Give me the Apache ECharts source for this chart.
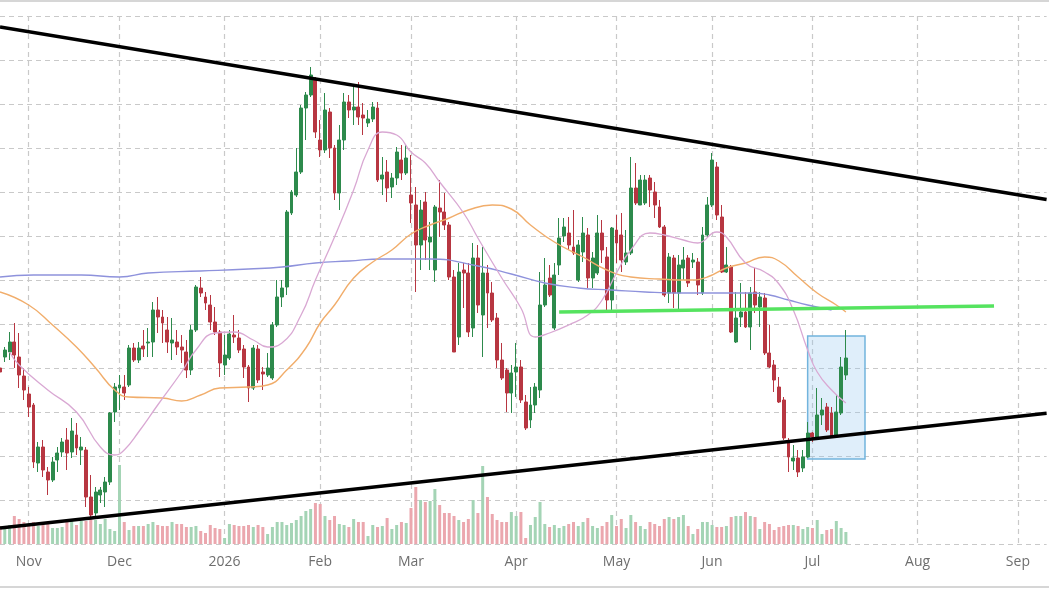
<!DOCTYPE html>
<html>
<head>
<meta charset="utf-8">
<script src="https://cdn.jsdelivr.net/npm/echarts@6/dist/echarts.min.js"></script>
<style>
html, body { margin: 0; padding: 0; background: #fff; }
#chart { width: 1049px; height: 590px; }
</style>
</head>
<body>
<div id="chart"></div>
<script>
var chart = echarts.init(document.getElementById('chart'));

// trading calendar
var firstDay = '2025-10-24';
var dayCount = 220;
var holidays = ['2025-11-27', '2025-12-25', '2026-01-01', '2026-01-19', '2026-02-16',
	'2026-04-03', '2026-05-25', '2026-06-19', '2026-07-03', '2026-09-07'];
var monthNames = ['Jan', 'Feb', 'Mar', 'Apr', 'May', 'Jun', 'Jul', 'Aug', 'Sep', 'Oct', 'Nov', 'Dec'];

// [open, close, low, high]
var ohlc = [
	[220,216,211,241],[231,238,226,241],[236,246,228,256],[246,233,220,265],[231,213,200,255],
	[212,198,188,220],[194,181,171,201],[183,126,120,185],[125,141,116,146],[141,118,111,148],
	[116,108,93,121],[108,126,106,131],[128,135,116,141],[136,146,131,150],[148,135,118,160],
	[136,157,130,170],[153,140,133,165],[138,141,123,151],[138,91,81,141],[91,73,71,113],
	[75,96,71,101],[93,98,85,101],[96,106,81,111],[106,175,103,176],[176,201,166,205],
	[200,203,178,213],[201,195,188,213],[203,240,201,243],[240,228,226,245],[228,240,225,246],
	[242,239,231,258],[245,246,231,260],[246,278,231,286],[278,271,255,291],[271,265,245,278],
	[258,246,235,271],[245,248,228,270],[246,241,233,258],[241,238,225,253],[236,218,210,248],
	[218,258,213,263],[258,301,256,303],[300,295,291,311],[291,285,278,296],[283,266,258,293],
	[266,256,253,281],[256,225,211,258],[223,233,213,253],[230,254,228,258],[253,251,245,273],
	[250,238,235,258],[239,221,210,243],[221,200,186,223],[200,240,198,243],[239,208,205,243],
	[216,214,198,221],[213,220,211,235],[210,263,208,266],[263,291,261,308],[291,300,281,308],
	[301,376,293,378],[375,396,373,398],[393,416,391,440],[416,480,414,483],[480,493,448,496],
	[493,513,491,521],[508,456,450,511],[448,438,431,468],[438,478,435,495],[476,440,430,480],
	[440,395,388,443],[395,448,378,463],[448,486,438,495],[486,478,470,493],[478,481,463,503],
	[481,471,463,506],[473,470,453,485],[465,469,461,478],[469,481,466,486],[480,408,406,486],
	[409,413,393,431],[416,400,386,428],[401,410,390,415],[410,436,403,441],[428,415,408,443],
	[415,430,413,443],[393,385,365,433],[383,343,296,401],[343,378,318,388],[386,348,328,396],
	[346,351,318,366],[318,381,306,383],[380,376,351,408],[376,363,358,395],[363,311,308,366],
	[311,236,236,318],[251,316,243,325],[318,315,280,325],[315,256,251,325],[260,330,251,345],
	[330,283,275,343],[273,315,231,341],[315,295,260,323],[295,268,266,306],[270,228,220,275],
	[228,210,208,245],[218,195,176,220],[195,215,175,223],[216,221,191,245],[221,188,185,228],
	[186,160,158,193],[168,183,160,201],[183,201,175,205],[198,283,190,316],[283,303,281,330],
	[310,293,291,323],[260,313,258,325],[323,350,313,370],[352,361,346,370],[355,343,338,371],
	[341,335,333,378],[308,343,306,348],[336,355,326,371],[353,310,300,360],[310,330,300,336],
	[315,355,313,373],[355,338,325,368],[331,288,278,341],[288,360,278,361],[358,345,325,373],
	[353,328,316,375],[326,335,323,358],[335,400,333,431],[400,385,383,425],[383,408,383,413],
	[385,408,383,413],[410,398,381,413],[396,383,370,406],[381,361,360,388],[361,293,291,363],
	[295,331,285,335],[330,295,280,333],[295,323,278,333],[320,328,308,341],[330,305,301,333],
	[326,328,320,335],[326,303,293,330],[295,353,293,361],[353,383,351,391],[383,428,381,435],
	[421,373,368,426],[371,316,315,383],[316,323,315,341],[321,256,255,323],[246,270,245,296],
	[271,276,261,305],[276,261,260,296],[261,295,238,301],[296,283,275,320],[281,291,261,296],
	[290,235,233,295],[235,221,220,263],[223,208,196,228],[201,186,185,211],[188,150,148,191],
	[146,131,116,150],[127,130,118,143],[130,116,111,138],[120,131,116,138],[131,155,130,166],
	[155,151,146,156],[151,173,150,200],[173,178,163,190],[181,158,156,185],[175,151,151,181],
	[153,176,151,193],[175,221,173,231],[213,230,208,258]
];

// volume, millions
var volumes = [
	1.8,1.8,1.9,2.8,2.5,2.2,2.0,2.2,1.8,2.2, 2.0,1.6,1.6,1.7,2.2,2.4,1.9,2.3,2.3,2.7,
	2.4,2.0,2.5,1.5,1.3,7.9,2.2,1.4,1.8,1.8, 1.8,2.0,2.2,1.9,1.8,1.8,2.2,2.0,2.0,1.7,
	1.7,1.8,1.3,1.1,1.9,1.6,1.5,0.6,2.0,1.9, 1.8,1.8,1.9,1.7,1.9,1.7,1.0,1.7,2.2,2.2,
	1.9,2.1,2.4,2.8,3.3,3.5,4.1,4.0,2.8,2.4, 2.8,2.0,1.9,1.7,2.5,2.2,2.2,0.8,1.9,1.7,
	1.8,2.6,1.5,1.9,2.2,2.1,3.6,5.7,4.4,4.2, 4.3,5.5,3.9,3.1,3.1,2.8,2.4,2.2,2.5,4.4,
	3.1,7.8,4.7,3.0,2.4,2.2,2.2,3.2,2.8,3.2, 0.6,1.9,2.7,4.2,2.0,1.7,1.9,1.6,1.8,2.0,
	2.2,1.8,2.2,2.6,1.8,1.6,1.8,2.2,2.9,1.8, 2.5,1.6,2.9,2.2,1.8,1.5,2.2,2.0,1.8,2.5,
	2.7,2.5,2.7,2.9,1.8,1.0,1.5,2.2,2.2,1.9, 1.7,1.7,1.8,2.7,2.8,2.8,3.2,2.8,2.7,1.5,
	2.2,2.0,1.4,1.7,1.8,1.9,1.9,1.8,1.5,1.7, 1.6,2.4,1.0,1.4,1.5,2.3,1.6,1.2
];

var ma20 = [
	['2025-10-28',236],['2025-10-30',223],['2025-11-07',198],['2025-11-17',176],['2025-11-24',141],
	['2025-11-28',133],['2025-12-02',138],['2025-12-05',156],['2025-12-11',183],['2025-12-18',216],
	['2025-12-23',238],['2025-12-30',255],['2026-01-06',256],['2026-01-12',248],['2026-01-15',241],
	['2026-01-21',245],['2026-01-27',273],['2026-01-30',308],['2026-02-05',351],['2026-02-11',398],
	['2026-02-17',438],['2026-02-20',456],['2026-02-25',453],['2026-03-02',436],['2026-03-05',425],
	['2026-03-10',406],['2026-03-17',375],['2026-03-20',350],['2026-03-27',310],['2026-04-02',280],
	['2026-04-08',251],['2026-04-13',255],['2026-04-17',263],['2026-04-23',273],['2026-04-28',288],
	['2026-05-01',315],['2026-05-06',338],['2026-05-12',355],['2026-05-15',353],['2026-05-21',348],
	['2026-05-27',345],['2026-06-02',356],['2026-06-04',351],['2026-06-10',325],['2026-06-16',316],
	['2026-06-22',304],['2026-06-25',278],['2026-06-30',238],['2026-07-02',216],['2026-07-08',198],
	['2026-07-13',185]
];
var ma50 = [
	['2025-10-24',296],['2025-11-03',283],['2025-11-10',263],['2025-11-17',241],['2025-11-21',220],
	['2025-11-28',198],['2025-12-03',191],['2025-12-12',190],['2025-12-18',187],['2025-12-24',193],
	['2025-12-31',200],['2026-01-09',201],['2026-01-15',203],['2026-01-22',218],['2026-01-28',240],
	['2026-02-02',265],['2026-02-05',283],['2026-02-11',310],['2026-02-18',326],['2026-02-24',338],
	['2026-03-02',354],['2026-03-06',363],['2026-03-12',370],['2026-03-18',378],['2026-03-25',383],
	['2026-03-31',379],['2026-04-07',363],['2026-04-14',346],['2026-04-22',331],['2026-04-29',318],
	['2026-05-06',311],['2026-05-14',309],['2026-05-22',308],['2026-05-29',311],['2026-06-04',320],
	['2026-06-10',325],['2026-06-16',331],['2026-06-22',327],['2026-06-26',311],['2026-07-02',295],
	['2026-07-09',283],['2026-07-13',276]
];
var ma200 = [
	['2025-10-24',311],['2025-11-04',313],['2025-11-18',313],['2025-12-01',311],['2025-12-09',315],
	['2025-12-24',317],['2026-01-09',319],['2026-01-21',321],['2026-01-30',325],['2026-02-10',327],
	['2026-02-20',329],['2026-03-06',329],['2026-03-20',322],['2026-03-31',314],['2026-04-10',305],
	['2026-04-21',300],['2026-04-30',298],['2026-05-11',296],['2026-05-20',295],['2026-06-02',295],
	['2026-06-11',295],['2026-06-17',293],['2026-06-24',288],['2026-06-30',283],['2026-07-08',278]
];

// drawn annotations
var upperTrend = [['2025-10-24', 561], ['2026-09-10', 388.4]];
var lowerTrend = [['2025-10-24', 60], ['2026-09-10', 174.7]];
var supportLine = [['2026-04-15', 276], ['2026-08-25', 282]];
var boxFrom = { xAxis: '2026-06-30', yAxis: 252 };
var boxTo = { xAxis: '2026-07-17', yAxis: 129 };

function tradingDays(start, count) {
	var out = [];
	var d = new Date(start + 'T00:00:00Z');
	while (out.length < count) {
		var s = d.toISOString().slice(0, 10);
		var wd = d.getUTCDay();
		if (wd !== 0 && wd !== 6 && holidays.indexOf(s) < 0) out.push(s);
		d.setUTCDate(d.getUTCDate() + 1);
	}
	return out;
}
var dates = tradingDays(firstDay, dayCount);

function isMonthStart(i) {
	return i > 0 && dates[i].slice(5, 7) !== dates[i - 1].slice(5, 7);
}

var volumeData = volumes.map(function (v, i) {
	var up = ohlc[i][1] >= ohlc[i][0];
	return { value: v, itemStyle: { color: up ? '#a4d4b5' : '#eba7ae' } };
});

var gridDash = { color: '#c9c9c9', width: 1.2, type: [5, 4] };

var option = {
	animation: false,
	backgroundColor: '#ffffff',
	grid: { left: 0, right: 2.4, top: 16, bottom: 46 },
	xAxis: {
		type: 'category',
		data: dates,
		boundaryGap: false,
		axisLine: { show: false },
		axisTick: { show: false },
		axisLabel: {
			interval: function (index) { return isMonthStart(index); },
			formatter: function (value) {
				var m = +value.slice(5, 7);
				return m === 1 ? value.slice(0, 4) : monthNames[m - 1];
			},
			color: '#6e6e6e',
			fontSize: 14,
			fontFamily: 'Open Sans',
			margin: 11
		},
		splitLine: {
			show: true,
			interval: function (index) { return isMonthStart(index); },
			lineStyle: gridDash
		}
	},
	yAxis: [{
		type: 'value',
		min: 44,
		max: 572,
		interval: 44,
		axisLine: { show: false },
		axisTick: { show: false },
		axisLabel: { show: false },
		splitLine: { show: true, lineStyle: gridDash }
	}, {
		type: 'value',
		min: 0,
		max: 52.8,
		axisLine: { show: false },
		axisTick: { show: false },
		axisLabel: { show: false },
		splitLine: { show: false }
	}],
	graphic: [
		{ type: 'line', shape: { x1: 0, y1: 1, x2: 1049, y2: 1 }, style: { stroke: '#d6d6d6', lineWidth: 2 } },
		{ type: 'line', shape: { x1: 0, y1: 587, x2: 1049, y2: 587 }, style: { stroke: '#d6d6d6', lineWidth: 2 } }
	],
	series: [{
		name: 'Volume',
		type: 'bar',
		yAxisIndex: 1,
		barWidth: 3,
		data: volumeData
	}, {
		name: 'Price',
		type: 'candlestick',
		barWidth: 3.4,
		data: ohlc,
		itemStyle: {
			color: '#2d8a4c',
			color0: '#b73641',
			borderColor: '#2d8a4c',
			borderColor0: '#b73641',
			borderWidth: 1
		}
	}, {
		name: 'MA200',
		type: 'line',
		data: ma200,
		smooth: true,
		showSymbol: false,
		lineStyle: { color: '#8e92dc', width: 1.3 }
	}, {
		name: 'MA50',
		type: 'line',
		data: ma50,
		smooth: true,
		showSymbol: false,
		lineStyle: { color: '#f1ad6b', width: 1.4 }
	}, {
		name: 'MA20',
		type: 'line',
		data: ma20,
		smooth: true,
		showSymbol: false,
		lineStyle: { color: '#d9a8d3', width: 1.3 }
	}, {
		name: 'Upper trend',
		type: 'line',
		data: upperTrend,
		showSymbol: false,
		lineStyle: { color: '#000', width: 3.5 }
	}, {
		name: 'Lower trend',
		type: 'line',
		data: lowerTrend,
		showSymbol: false,
		lineStyle: { color: '#000', width: 3.5 }
	}, {
		name: 'Support',
		type: 'line',
		data: supportLine,
		showSymbol: false,
		lineStyle: { color: '#55e35f', width: 3.5 },
		markArea: {
			silent: true,
			itemStyle: { color: 'rgba(150,200,240,0.3)', borderColor: '#72b4dd', borderWidth: 1.5 },
			data: [[boxFrom, boxTo]]
		}
	}]
};

chart.setOption(option);
</script>
</body>
</html>
